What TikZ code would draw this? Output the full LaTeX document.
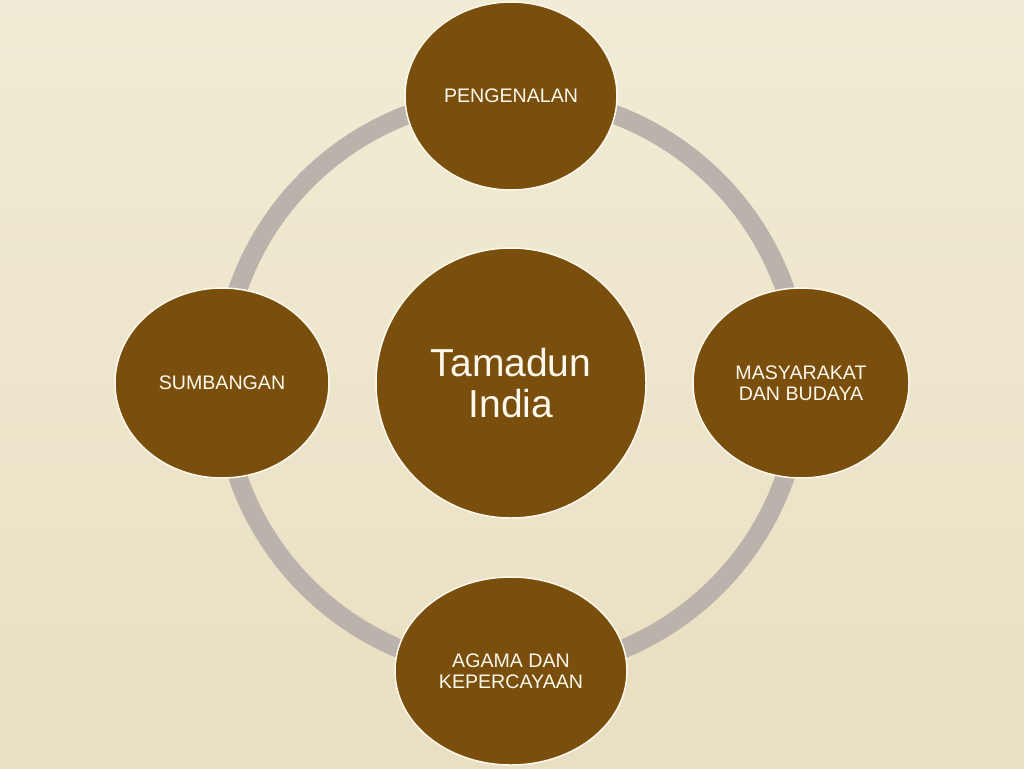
\documentclass[tikz,border=0pt]{standalone}
\usepackage{fontspec}
\setmainfont{Liberation Sans}
\usetikzlibrary{shapes.geometric,backgrounds}
\definecolor{parchment}{RGB}{241,236,213}
\definecolor{parchmentdark}{RGB}{233,223,194}
\definecolor{bark}{RGB}{122,79,14}
\definecolor{ringgrey}{RGB}{187,178,171}
\definecolor{cream}{RGB}{252,248,236}
\begin{document}
\begin{tikzpicture}[x=1pt,y=-1pt,
    topic/.style={ellipse,fill=bark,draw=cream,line width=1.5pt,inner sep=0pt,
      text=cream,align=center,font=\fontsize{19.6}{21.5}\selectfont},
    ring/.style={draw=ringgrey,line width=19pt}]
    \useasboundingbox (0,0) rectangle (1024,768);
    \node[topic,circle,minimum size=270pt,font=\fontsize{39}{41}\selectfont] (core) at (511,383) {Tamadun\\India};
    \node[topic,minimum width=212pt,minimum height=188pt] (intro) at (511,96) {PENGENALAN};
    \node[topic,minimum width=216pt,minimum height=190pt] (society) at (801,383) {MASYARAKAT\\DAN BUDAYA};
    \node[topic,minimum width=232pt,minimum height=188pt] (religion) at (511,671) {AGAMA DAN\\KEPERCAYAAN};
    \node[topic,minimum width=214pt,minimum height=190pt] (contrib) at (222,383) {SUMBANGAN};
    \begin{pgfonlayer}{background}
      \shade[top color=parchment,bottom color=parchmentdark] (0,0) rectangle (1024,768);
      \path (intro.center) edge [ring,bend left=45] (society.center);
      \path (society.center) edge [ring,bend left=45] (religion.center);
      \path (religion.center) edge [ring,bend left=45] (contrib.center);
      \path (contrib.center) edge [ring,bend left=45] (intro.center);
    \end{pgfonlayer}
\end{tikzpicture}
\end{document}
